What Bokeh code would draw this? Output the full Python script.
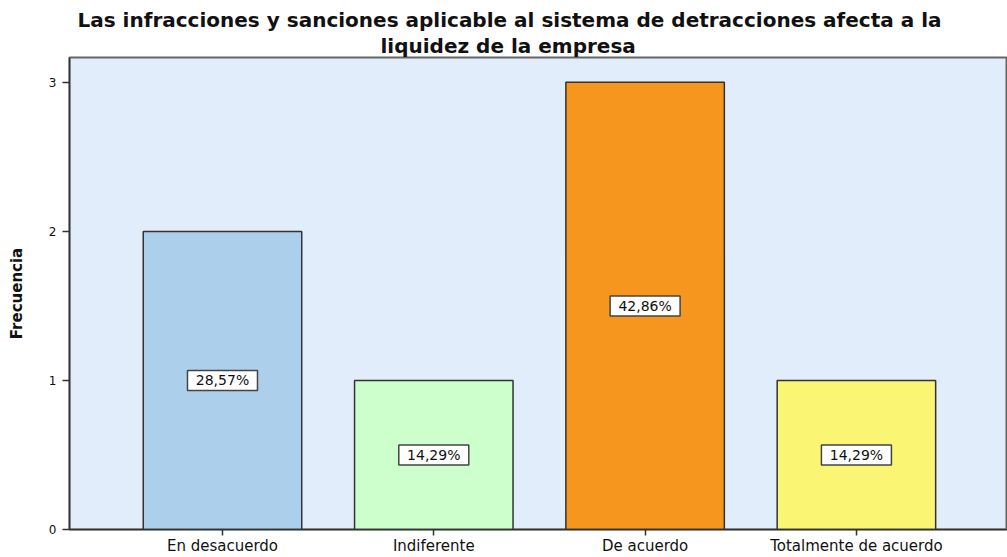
from bokeh.plotting import figure
from bokeh.models import Range1d, FixedTicker, ColumnDataSource, Title
from bokeh.core.properties import value
from bokeh.embed import file_html
from bokeh.resources import INLINE

categories = ["En desacuerdo", "Indiferente", "De acuerdo", "Totalmente de acuerdo"]
frequencies = [2, 1, 3, 1]
percent_labels = ["28,57%", "14,29%", "42,86%", "14,29%"]
bar_colors = ["#ACCFEC", "#CCFFCC", "#F7961E", "#FAF573"]
y_ticks = [0, 1, 2, 3]

title_line1 = "Las infracciones  y sanciones aplicable al sistema de detracciones afecta a la"
title_line2 = "liquidez de la empresa"

positions = list(range(1, len(categories) + 1))
src = ColumnDataSource(dict(
    x=positions,
    top=frequencies,
    mid=[f / 2 for f in frequencies],
    lab=percent_labels,
    color=bar_colors,
))

W, H = 1007, 557
p = figure(width=W, height=H, output_backend="svg", toolbar_location=None,
           x_range=Range1d(0.276, 4.715), y_range=Range1d(0, 3.1667),
           min_border_left=69, min_border_top=0, min_border_right=0,
           min_border_bottom=24)

p.background_fill_color = "#E1EDFA"
p.border_fill_color = "white"
p.outline_line_color = "#666666"
p.outline_line_width = 2
p.xgrid.visible = False
p.ygrid.visible = False

p.vbar(x="x", top="top", width=0.75, bottom=0, fill_color="color",
       line_color="#333333", line_width=1.5, source=src)

# percentage label boxes
p.rect(x="x", y="mid", width=70, height=20, width_units="screen",
       height_units="screen", fill_color="white", line_color="#444444",
       line_width=1.5, source=src)
p.text(x="x", y="mid", text="lab", source=src, text_align="center",
       text_baseline="middle", text_font=value("DejaVu Sans"),
       text_font_size="14px", text_color="#111111")

# x axis
p.xaxis.ticker = FixedTicker(ticks=positions)
p.xaxis.major_label_overrides = {pos: c for pos, c in zip(positions, categories)}
p.xaxis.major_label_text_font = "DejaVu Sans"
p.xaxis.major_label_text_font_size = "15px"
p.xaxis.major_label_text_color = "#111111"
p.xaxis.major_label_standoff = 1
p.xaxis.major_tick_out = 6
p.xaxis.major_tick_in = 0
p.xaxis.minor_tick_line_color = None
p.xaxis.axis_line_color = "#333333"
p.xaxis.axis_line_width = 1.5
p.xaxis.major_tick_line_color = "#333333"
p.xaxis.major_tick_line_width = 1.5

# y axis
p.yaxis.ticker = FixedTicker(ticks=y_ticks)
p.yaxis.major_label_text_font = "DejaVu Sans"
p.yaxis.major_label_text_font_size = "12px"
p.yaxis.major_label_text_color = "#111111"
p.yaxis.major_label_standoff = 6
p.yaxis.major_tick_out = 7
p.yaxis.major_tick_in = 0
p.yaxis.minor_tick_line_color = None
p.yaxis.axis_line_color = "#333333"
p.yaxis.axis_line_width = 1.5
p.yaxis.major_tick_line_color = "#333333"
p.yaxis.major_tick_line_width = 1.5
p.yaxis.axis_label = "Frecuencia"
p.yaxis.axis_label_text_font = "DejaVu Sans"
p.yaxis.axis_label_text_font_style = "bold"
p.yaxis.axis_label_text_font_size = "15px"
p.yaxis.axis_label_text_color = "#111111"
p.yaxis.axis_label_standoff = 20

# two-line title, centred on the whole figure (second line added first)
p.add_layout(Title(text=title_line2, align="left", offset=311,
                   text_font="DejaVu Sans", text_font_style="bold",
                   text_font_size="20px", text_color="#111111",
                   text_line_height=0.85, standoff=0), "above")
p.add_layout(Title(text=title_line1, align="left", offset=8,
                   text_font="DejaVu Sans", text_font_style="bold",
                   text_font_size="20px", text_color="#111111",
                   text_line_height=0.85, standoff=0,
                   padding=dict(left=0, right=0, top=5, bottom=0)),
             "above")

open("out.html", "w").write(file_html(p, INLINE))
